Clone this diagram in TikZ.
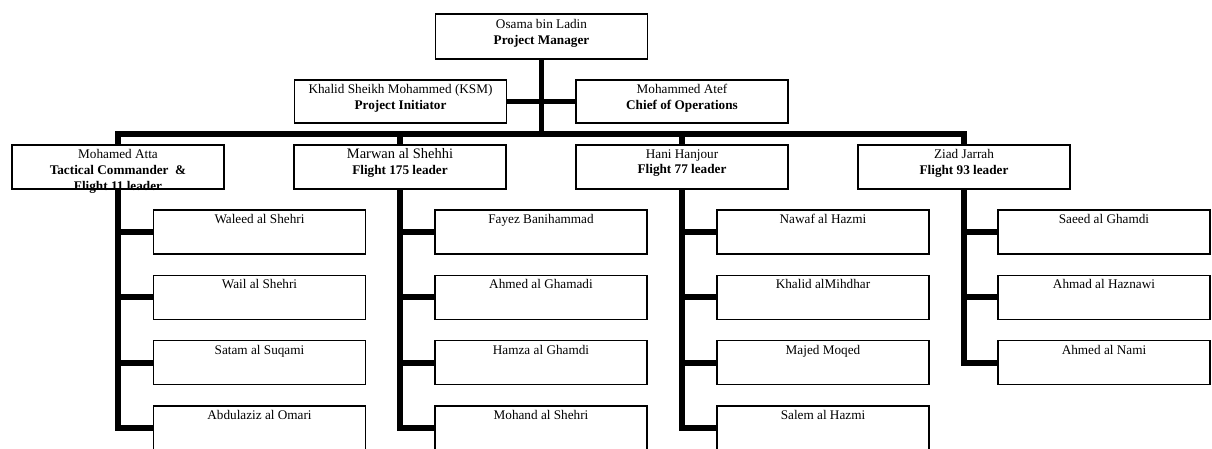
\documentclass[tikz,border=0pt]{standalone}
\usepackage{fontspec}
\setmainfont{Liberation Serif}
\usetikzlibrary{positioning}

\begin{document}
\begin{tikzpicture}[
    x=0.025cm, y=-0.025cm,
    box node/.style={draw, rectangle, line width=1pt, minimum width=5.3cm, minimum height=1.1cm, inner sep=0pt},
    box text/.style={anchor=north, inner sep=0pt, align=center, font=\fontsize{9.4}{11.2}\selectfont},
    link/.style={line width=4pt, line join=miter}
]
    \useasboundingbox (0,0) rectangle (1212,448);

    % top of the chart
    \node[box node, minimum height=1.125cm] (obl) at (541.5,36.5) {};
    \node[box node, minimum height=1.075cm] (ksm) at (400.5,101.5) {};
    \node[box node, minimum height=1.075cm] (atef) at (682,101.5) {};

    % flight leaders
    \node[box node] (atta) at (118,167) {};
    \node[box node] (marwan) at (400,167) {};
    \node[box node] (hani) at (682,167) {};
    \node[box node] (ziad) at (964,167) {};

    % hijackers
    \node[box node] (waleed) at (259.5,232) {};
    \node[box node] (wail) at (259.5,297.3) {};
    \node[box node] (satam) at (259.5,362.7) {};
    \node[box node] (abdulaziz) at (259.5,428) {};

    \node[box node] (fayez) at (541,232) {};
    \node[box node] (ahmedgh) at (541,297.3) {};
    \node[box node] (hamza) at (541,362.7) {};
    \node[box node] (mohand) at (541,428) {};

    \node[box node] (nawaf) at (823,232) {};
    \node[box node] (khalid) at (823,297.3) {};
    \node[box node] (majed) at (823,362.7) {};
    \node[box node] (salem) at (823,428) {};

    \node[box node] (saeed) at (1104,232) {};
    \node[box node] (ahmad) at (1104,297.3) {};
    \node[box node] (nami) at (1104,362.7) {};

    % texts
    \node[box text, below=0.14cm of obl.north] (obl-t) {Osama bin Ladin\\\textbf{Project Manager}};
    \node[box text, below=0.12cm of ksm.north] (ksm-t) {Khalid Sheikh Mohammed (KSM)\\\textbf{Project Initiator}};
    \node[box text, below=0.12cm of atef.north] (atef-t) {Mohammed Atef\\\textbf{Chief of Operations}};

    \node[box text, below=0.12cm of atta.north] (atta-t) {Mohamed Atta\\\textbf{Tactical Commander\ \ \&}\\\textbf{Flight 11 leader}};
    \node[box text, below=0.1cm of marwan.north] (marwan-t) {{\fontsize{10.3}{11.2}\selectfont Marwan al Shehhi}\\\textbf{Flight 175 leader}};
    \node[box text, below=0.12cm of hani.north] (hani-t) {Hani Hanjour\\\textbf{Flight 77 leader}};
    \node[box text, below=0.12cm of ziad.north] (ziad-t) {Ziad Jarrah\\\textbf{Flight 93 leader}};

    \node[box text, below=0.12cm of waleed.north] (waleed-t) {Waleed al Shehri};
    \node[box text, below=0.12cm of wail.north] (wail-t) {Wail al Shehri};
    \node[box text, below=0.12cm of satam.north] (satam-t) {Satam al Suqami};
    \node[box text, below=0.12cm of abdulaziz.north] (abdulaziz-t) {Abdulaziz al Omari};

    \node[box text, below=0.12cm of fayez.north] (fayez-t) {Fayez Banihammad};
    \node[box text, below=0.12cm of ahmedgh.north] (ahmedgh-t) {Ahmed al Ghamadi};
    \node[box text, below=0.12cm of hamza.north] (hamza-t) {Hamza al Ghamdi};
    \node[box text, below=0.12cm of mohand.north] (mohand-t) {Mohand al Shehri};

    \node[box text, below=0.12cm of nawaf.north] (nawaf-t) {Nawaf al Hazmi};
    \node[box text, below=0.12cm of khalid.north] (khalid-t) {Khalid alMihdhar};
    \node[box text, below=0.12cm of majed.north] (majed-t) {Majed Moqed};
    \node[box text, below=0.12cm of salem.north] (salem-t) {Salem al Hazmi};

    \node[box text, below=0.12cm of saeed.north] (saeed-t) {Saeed al Ghamdi};
    \node[box text, below=0.12cm of ahmad.north] (ahmad-t) {Ahmad al Haznawi};
    \node[box text, below=0.12cm of nami.north] (nami-t) {Ahmed al Nami};

    % box edge runs over the overflowing line
    \draw[line width=1pt] (atta.south west) -- (atta.south east);

    % connectors
    \coordinate (hub) at (541.5,134);
    \draw[link] (obl) -- (hub);
    \draw[link] (ksm) -- (atef);
    \draw[link] (atta.north) |- (hub) -| (ziad.north);
    \draw[link] (marwan.north) -- (marwan.north |- hub);
    \draw[link] (hani.north) -- (hani.north |- hub);

    \draw[link] (atta.south) |- (abdulaziz.west);
    \draw[link] (atta.south |- waleed.west) -- (waleed.west);
    \draw[link] (atta.south |- wail.west) -- (wail.west);
    \draw[link] (atta.south |- satam.west) -- (satam.west);

    \draw[link] (marwan.south) |- (mohand.west);
    \draw[link] (marwan.south |- fayez.west) -- (fayez.west);
    \draw[link] (marwan.south |- ahmedgh.west) -- (ahmedgh.west);
    \draw[link] (marwan.south |- hamza.west) -- (hamza.west);

    \draw[link] (hani.south) |- (salem.west);
    \draw[link] (hani.south |- nawaf.west) -- (nawaf.west);
    \draw[link] (hani.south |- khalid.west) -- (khalid.west);
    \draw[link] (hani.south |- majed.west) -- (majed.west);

    \draw[link] (ziad.south) |- (nami.west);
    \draw[link] (ziad.south |- saeed.west) -- (saeed.west);
    \draw[link] (ziad.south |- ahmad.west) -- (ahmad.west);
\end{tikzpicture}
\end{document}
